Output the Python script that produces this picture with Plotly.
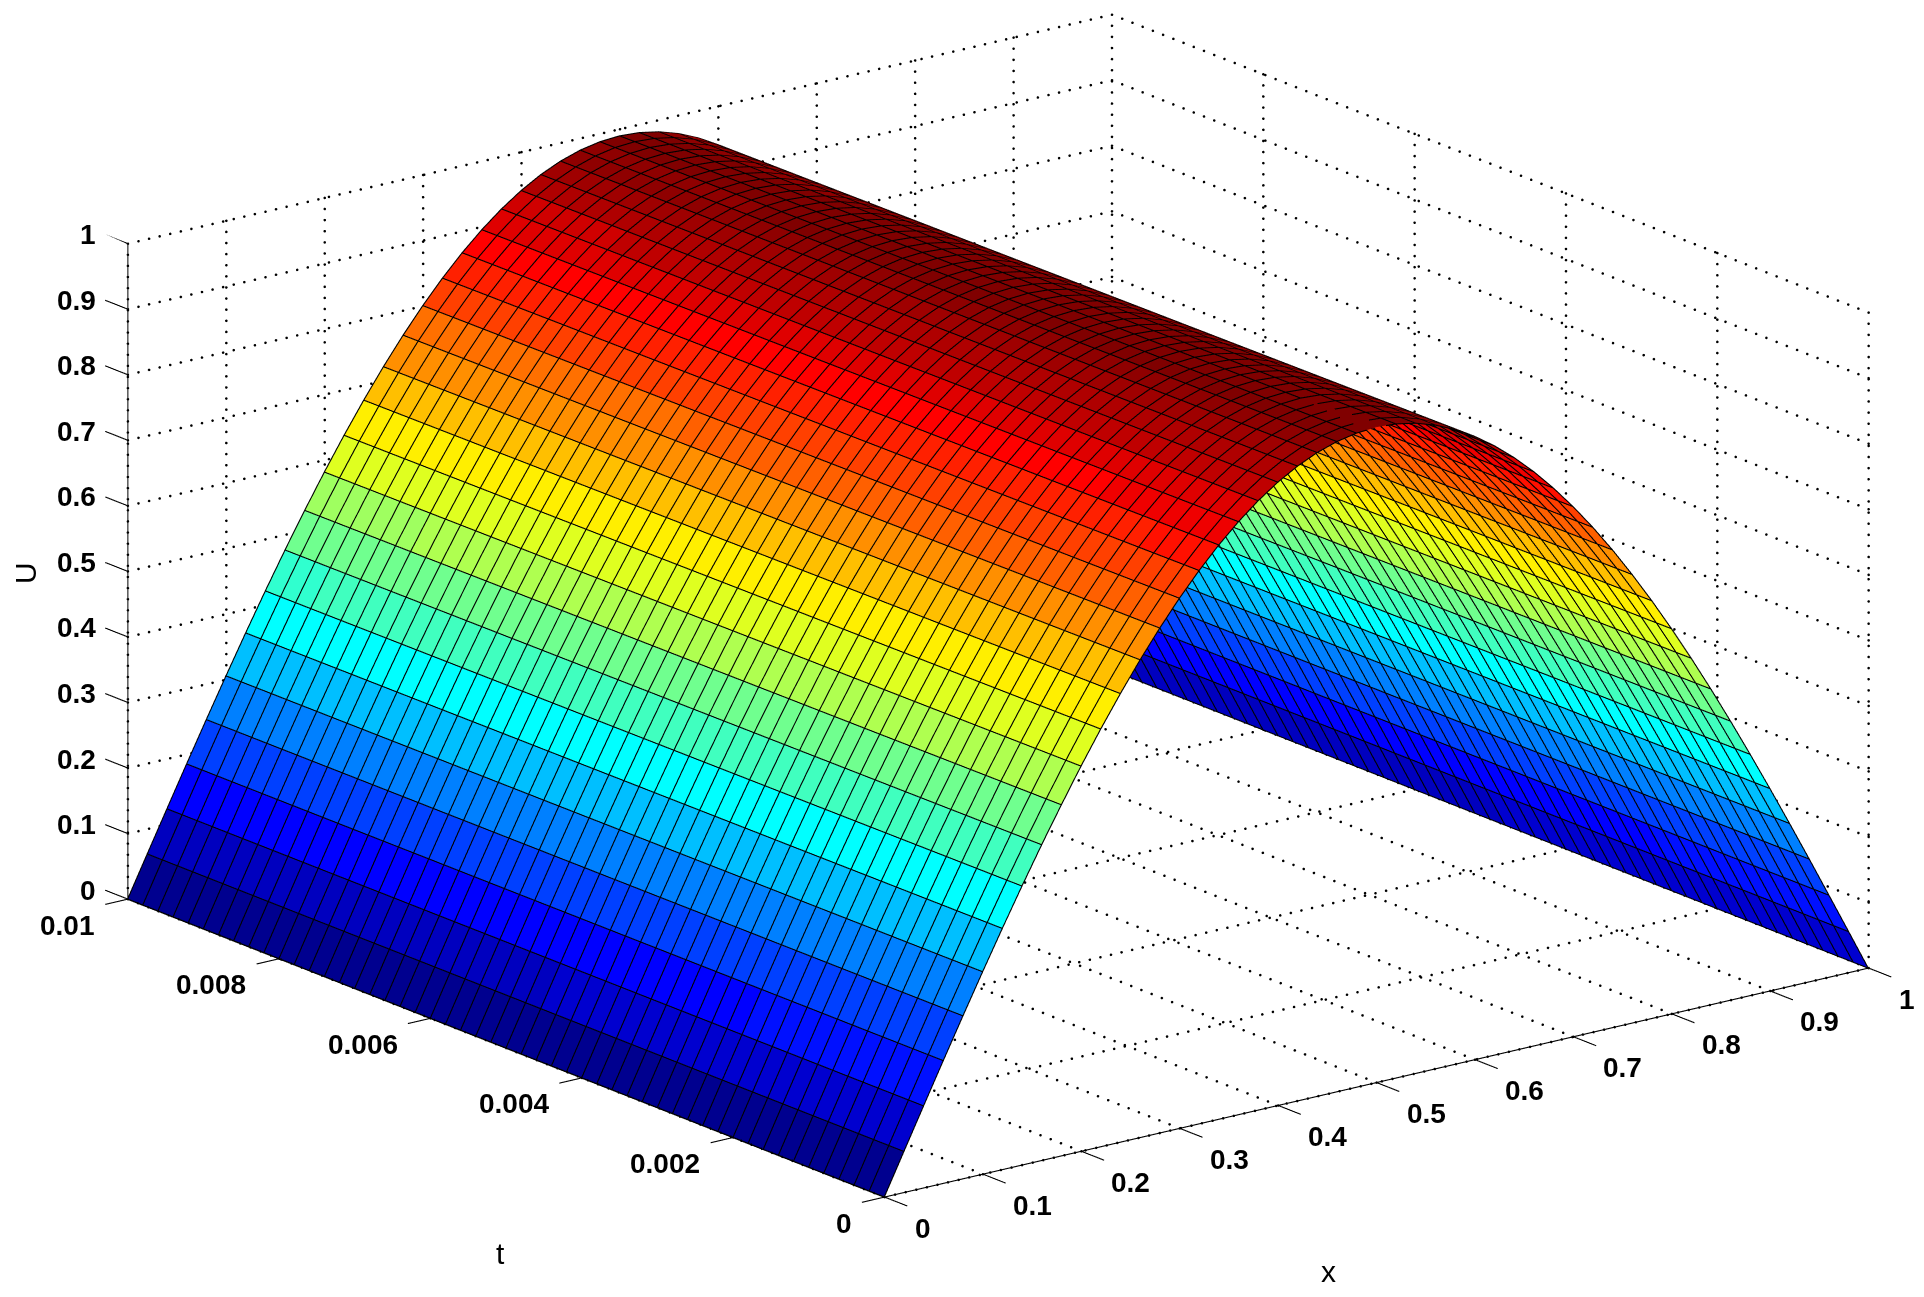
import numpy as np
import plotly.graph_objects as go

x_grid = [round(0.02*i, 2) for i in range(51)]
t_grid = [round(0.0002*i, 4) for i in range(51)]
u_profile = [0.0000,0.0628,0.1253,0.1874,0.2487,0.3090,0.3681,0.4258,0.4818,0.5358,0.5878,
             0.6374,0.6845,0.7290,0.7705,0.8090,0.8443,0.8763,0.9048,0.9298,0.9511,
             0.9686,0.9823,0.9921,0.9980,1.0000,0.9980,0.9921,0.9823,0.9686,0.9511,
             0.9298,0.9048,0.8763,0.8443,0.8090,0.7705,0.7290,0.6845,0.6374,0.5878,
             0.5358,0.4818,0.4258,0.3681,0.3090,0.2487,0.1874,0.1253,0.0628,0.0000]
t_factor = [1.0000,0.9998,0.9996,0.9994,0.9992,0.9990,0.9988,0.9986,0.9984,0.9982,0.9980,
            0.9978,0.9976,0.9974,0.9972,0.9970,0.9968,0.9966,0.9964,0.9962,0.9960,
            0.9958,0.9956,0.9954,0.9952,0.9950,0.9948,0.9946,0.9944,0.9942,0.9940,
            0.9938,0.9936,0.9934,0.9932,0.9930,0.9928,0.9926,0.9924,0.9922,0.9920,
            0.9918,0.9916,0.9914,0.9912,0.9910,0.9908,0.9906,0.9904,0.9902,0.9900]
x_ticks = [0,0.1,0.2,0.3,0.4,0.5,0.6,0.7,0.8,0.9,1]
x_ticklabels = ["0","0.1","0.2","0.3","0.4","0.5","0.6","0.7","0.8","0.9","1"]
t_ticks = [0,0.002,0.004,0.006,0.008,0.01]
t_ticklabels = ["0","0.002","0.004","0.006","0.008","0.01"]
u_ticks = [0,0.1,0.2,0.3,0.4,0.5,0.6,0.7,0.8,0.9,1]
u_ticklabels = ["0","0.1","0.2","0.3","0.4","0.5","0.6","0.7","0.8","0.9","1"]

W, H = 1924, 1297
x = np.array(x_grid); t = np.array(t_grid)
U = np.outer(t_factor, u_profile)   # rows: t, cols: x
nt, nx = U.shape

def jet64(v):
    i = min(int(v*64), 63)
    g = (i+1)/64
    f = lambda a: max(0, min(1, a))
    r = f(min(4*g-1.5, -4*g+4.5)); gg = f(min(4*g-0.5, -4*g+3.5)); b = f(min(4*g+0.5, -4*g+2.5))
    return f"rgb({round(r*255)},{round(gg*255)},{round(b*255)})"

X, T = np.meshgrid(x, t)
idx = np.arange(nx*nt).reshape(nt, nx)
I, J, K, FC = [], [], [], []
for a in range(nt-1):
    for b in range(nx-1):
        c = jet64(U[a, b])
        p, q, r_, s = idx[a, b], idx[a, b+1], idx[a+1, b+1], idx[a+1, b]
        I += [p, p]; J += [q, r_]; K += [r_, s]; FC += [c, c]

fig = go.Figure()
fig.add_trace(go.Mesh3d(x=X.ravel(), y=T.ravel(), z=U.ravel(), i=I, j=J, k=K, facecolor=FC,
                        flatshading=True, hoverinfo="skip", showscale=False,
                        lighting=dict(ambient=1, diffuse=0, specular=0, fresnel=0, roughness=1)))

# mesh edges, nudged toward the camera so they sit on top of the facets
ox, ot, oz = -0.0015, -0.0015*0.01, 0.0010
ex, et, ez = [], [], []
for a in range(nt):
    ex += list(x+ox)+[None]; et += list(np.full(nx, t[a])+ot)+[None]; ez += list(U[a]+oz)+[None]
for b in range(nx):
    ex += list(np.full(nt, x[b])+ox)+[None]; et += list(t+ot)+[None]; ez += list(U[:, b]+oz)+[None]
fig.add_trace(go.Scatter3d(x=ex, y=et, z=ez, mode="lines", line=dict(color="black", width=2.2),
                           hoverinfo="skip", showlegend=False))

# dotted grid on the floor and back walls, drawn as small dots
gx, gt, gz = [], [], []
def dots(p0, p1, n):
    for s in np.linspace(0, 1, n+1):
        gx.append(p0[0]+(p1[0]-p0[0])*s); gt.append(p0[1]+(p1[1]-p0[1])*s); gz.append(p0[2]+(p1[2]-p0[2])*s)
NX, NT, NZ = 93, 74, 59
for v in x_ticks:
    dots((v, 0, 0), (v, 0.01, 0), NT)
    dots((v, 0.01, 0), (v, 0.01, 1), NZ)
for v in t_ticks:
    dots((0, v, 0), (1, v, 0), NX)
    dots((1, v, 0), (1, v, 1), NZ)
for v in u_ticks:
    dots((0, 0.01, v), (1, 0.01, v), NX)
    dots((1, 0, v), (1, 0.01, v), NT)
fig.add_trace(go.Scatter3d(x=gx, y=gt, z=gz, mode="markers",
                           marker=dict(color="black", size=1.5, line=dict(width=0)),
                           hoverinfo="skip", showlegend=False))

# solid axes and tick marks
lx, lt, lz = [], [], []
def seg(a, b):
    lx.extend([a[0], b[0], None]); lt.extend([a[1], b[1], None]); lz.extend([a[2], b[2], None])
seg((0, 0, 0), (1, 0, 0)); seg((0, 0, 0), (0, 0.01, 0)); seg((0, 0.01, 0), (0, 0.01, 1))
for v in x_ticks:
    seg((v, 0, 0), (v, -0.0003, 0))
for v in t_ticks:
    seg((0, v, 0), (-0.023, v, 0))
for v in u_ticks:
    seg((0, 0.01, v), (0, 0.0103, v))
fig.add_trace(go.Scatter3d(x=lx, y=lt, z=lz, mode="lines", line=dict(color="black", width=2.2),
                           hoverinfo="skip", showlegend=False))

tf = dict(family="Liberation Sans", size=28, color="black", weight=700)
annos = []
for v, s in zip(x_ticks, x_ticklabels):
    annos.append(dict(x=v, y=0, z=0, text=s, showarrow=False, xanchor="left", yanchor="middle",
                      xshift=28, yshift=-31, font=tf))
for v, s in zip(t_ticks, t_ticklabels):
    annos.append(dict(x=0, y=v, z=0, text=s, showarrow=False, xanchor="right", yanchor="middle",
                      xshift=-31, yshift=-26, font=tf))
for v, s in zip(u_ticks, u_ticklabels):
    annos.append(dict(x=0, y=0.01, z=v, text=s, showarrow=False, xanchor="right", yanchor="middle",
                      xshift=-30, yshift=9, font=tf))

hidden = dict(visible=False, showgrid=False, zeroline=False, showbackground=False, showspikes=False)
cen = np.array([-0.0201, 0.0080, -0.0745])
view = np.array([-0.5809, -0.7556, 0.3027])*2.0
eye = cen+view
fig.update_layout(
    width=W, height=H, margin=dict(l=0, r=0, t=0, b=0), paper_bgcolor="white", showlegend=False,
    scene=dict(
        domain=dict(x=[0, 1], y=[0, 1]),
        xaxis=dict(range=[-0.03, 1], **hidden),
        yaxis=dict(range=[-0.0004, 0.0104], **hidden),
        zaxis=dict(range=[0, 1], **hidden),
        aspectmode="manual", aspectratio=dict(x=1.9715, y=2.0675, z=1.0605),
        camera=dict(eye=dict(x=eye[0], y=eye[1], z=eye[2]),
                    center=dict(x=cen[0], y=cen[1], z=cen[2]),
                    up=dict(x=0, y=0, z=1), projection=dict(type="orthographic")),
        annotations=annos,
    ),
    annotations=[
        dict(text=s, x=px/W, y=1-py/H, xref="paper", yref="paper", showarrow=False,
             xanchor="center", yanchor="middle", textangle=ang,
             font=dict(family="Liberation Sans", size=30, color="black"))
        for s, px, py, ang in [("t", 492, 1245, 0), ("x", 1320, 1263, 0), ("U", 17, 565, -90)]
    ],
)
fig.write_html("out.html")
